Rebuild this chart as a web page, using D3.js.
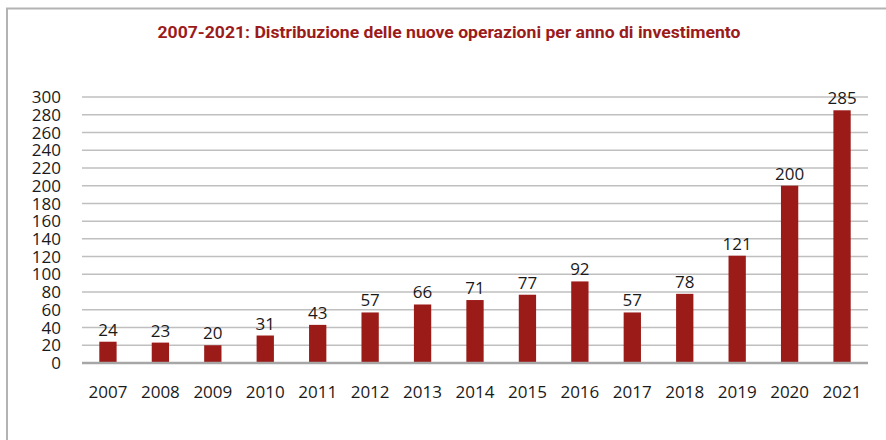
<!DOCTYPE html>
<html lang="it">
<head>
<meta charset="UTF-8">
<title>Distribuzione delle nuove operazioni</title>
<script src="https://d3js.org/d3.v7.min.js"></script>
<style>
  body { margin: 0; background: #fff; }
  svg { display: block; }
  text { font-family: "Open Sans", sans-serif; fill: #1a1a1a; }
</style>
</head>
<body>
<svg id="chart" width="886" height="440"></svg>
<script>
// data
const years = ["2007","2008","2009","2010","2011","2012","2013","2014","2015","2016","2017","2018","2019","2020","2021"];
const operations = [24, 23, 20, 31, 43, 57, 66, 71, 77, 92, 57, 78, 121, 200, 285];
const yTicks = d3.range(0, 301, 20);

const svg = d3.select("#chart");
const margin = { left: 82, right: 18, top: 97, bottom: 77 };
const width = 886, height = 440;

// frame
svg.append("line").attr("x1", 6).attr("x2", 886).attr("y1", 8.5).attr("y2", 8.5)
  .attr("stroke", "#b3b3b3").attr("stroke-width", 2);
svg.append("line").attr("x1", 7).attr("x2", 7).attr("y1", 8).attr("y2", 440)
  .attr("stroke", "#b3b3b3").attr("stroke-width", 2);

svg.append("text")
  .attr("x", 449).attr("y", 38)
  .attr("text-anchor", "middle")
  .attr("textLength", 583).attr("lengthAdjust", "spacingAndGlyphs")
  .style("font-family", "'Liberation Sans Narrow', Roboto, sans-serif")
  .style("font-weight", "bold").style("font-size", "16px").style("fill", "#9b1b1b")
  .text("2007-2021: Distribuzione delle nuove operazioni per anno di investimento");

const x = d3.scaleBand().domain(years)
  .range([margin.left, width - margin.right])
  .paddingInner(0.67).paddingOuter(0.33);
const y = d3.scaleLinear().domain([0, 300]).range([height - margin.bottom, margin.top]);

// gridlines
svg.append("g").selectAll("line").data(yTicks.filter(d => d > 0)).join("line")
  .attr("x1", margin.left).attr("x2", width - margin.right)
  .attr("y1", d => y(d)).attr("y2", d => y(d))
  .attr("stroke", "#bfbfbf").attr("stroke-width", 1.5);

// y axis labels
svg.append("g").selectAll("text").data(yTicks).join("text")
  .attr("x", 61).attr("y", d => y(d)).attr("dy", "0.36em")
  .attr("text-anchor", "end").style("font-size", "17px")
  .text(d => d);

// bars
svg.append("g").selectAll("rect").data(operations).join("rect")
  .attr("x", (d, i) => x(years[i]))
  .attr("width", x.bandwidth())
  .attr("y", d => y(d))
  .attr("height", d => y(0) - y(d))
  .attr("fill", "#9b1b18");

// baseline
svg.append("line").attr("x1", margin.left).attr("x2", width - margin.right)
  .attr("y1", y(0)).attr("y2", y(0))
  .attr("stroke", "#a6a6a6").attr("stroke-width", 2.5);

// value labels
svg.append("g").selectAll("text").data(operations).join("text")
  .attr("x", (d, i) => x(years[i]) + x.bandwidth() / 2)
  .attr("y", d => y(d) - 6)
  .attr("text-anchor", "middle").style("font-size", "17px")
  .text(d => d);

// x axis labels
svg.append("g").selectAll("text").data(years).join("text")
  .attr("x", d => x(d) + x.bandwidth() / 2)
  .attr("y", 398)
  .attr("text-anchor", "middle").style("font-size", "17px")
  .text(d => d);
</script>
</body>
</html>
